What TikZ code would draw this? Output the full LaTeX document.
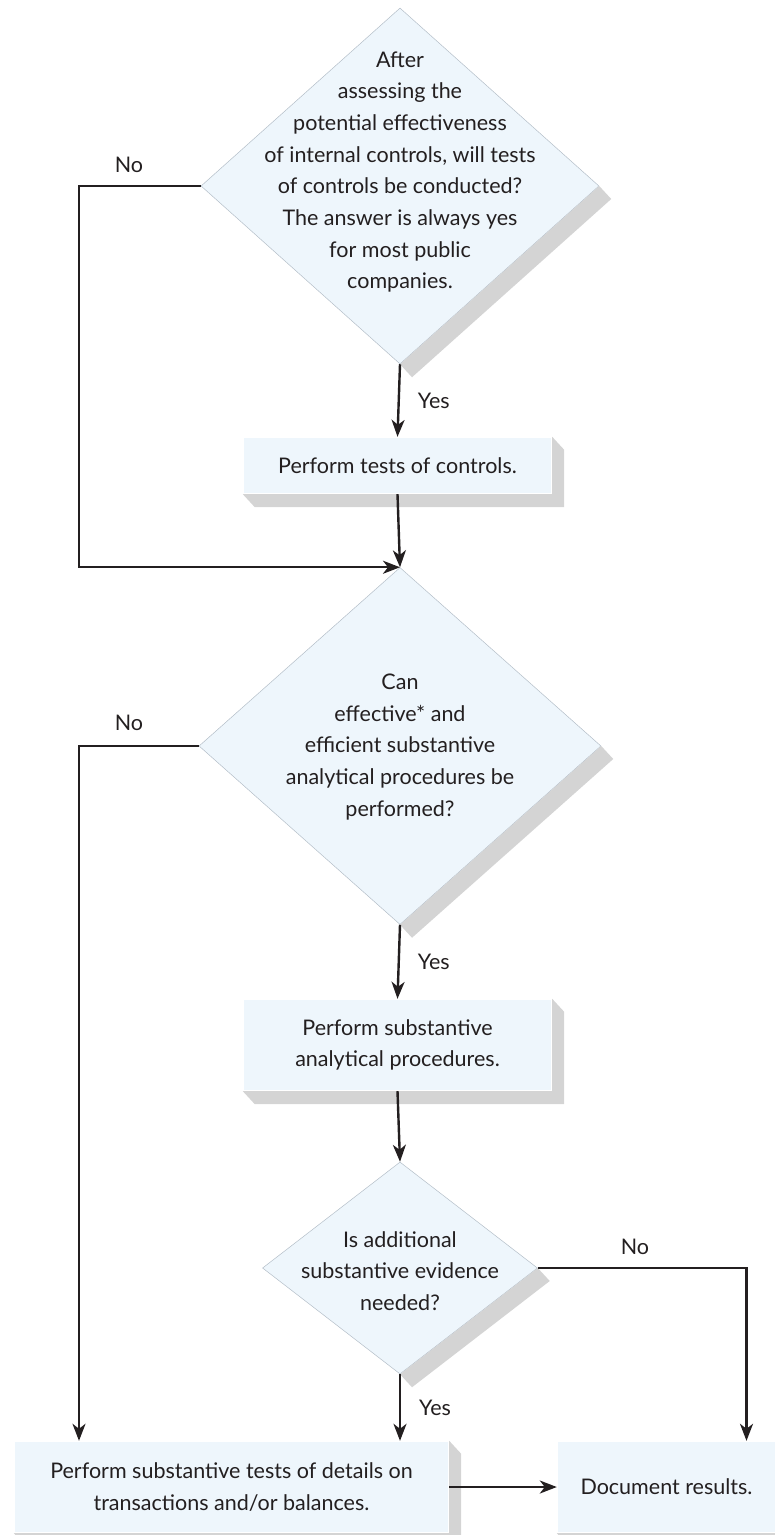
\documentclass[tikz,border=0pt]{standalone}
\usepackage{fontspec}
\setmainfont{Lato}
\usetikzlibrary{arrows.meta,shapes.geometric,calc}
\usepackage{xcolor}
\definecolor{fcFill}{HTML}{EEF6FC}
\definecolor{fcText}{HTML}{231F20}
\definecolor{fcEdge}{HTML}{B4BEC8}
\definecolor{fcShadow}{HTML}{D4D4D4}
\newcommand{\flowfont}{\fontsize{21.5}{31.7}\selectfont}
\tikzset{
    every picture/.style={
        >={Stealth[length=17pt,width=13pt,inset=5pt]},
        line width=2.4pt
    },
    % Node styles
    process/.style={rectangle,fill=fcFill,inner sep=0pt,align=center,text=fcText,font=\flowfont},
    qtext/.style={align=center,text=fcText,font=\flowfont,inner sep=0pt},
    answer/.style={text=fcText,font=\flowfont,inner sep=0pt},
    % Flow styles
    link/.style={->,line width=2.4pt,draw=fcText},
    shadowfill/.style={fill=fcShadow}
}

\begin{document}
\begin{tikzpicture}[
    x=1pt, y=-1pt,
    decision/.style={diamond, draw=fcEdge, line width=0.5pt, fill=fcFill, inner sep=0pt},
]
    \useasboundingbox (0,0) rectangle (775,1535);

    % Decisions
    \node[decision, minimum width=398pt, minimum height=356pt] (q1) at (400,186) {};
    \node[qtext] (q1txt) at (400,172) {After\\assessing the\\potential effectiveness\\of internal controls, will tests\\of controls be conducted?\\The answer is always yes\\for most public\\companies.};

    \node[decision, minimum width=402pt, minimum height=357pt] (q2) at (400,746) {};
    \node[qtext] (q2txt) at (400,747) {Can\\effective* and\\efficient substantive\\analytical procedures be\\performed?};

    \node[decision, minimum width=275pt, minimum height=212pt] (q3) at (400,1268) {};
    \node[qtext] (q3txt) at (400,1271) {Is additional\\substantive evidence\\needed?};

    % Steps
    \node[process, minimum width=307pt, minimum height=55pt] (tests) at (397.5,465.5) {Perform tests of controls.};
    \node[process, minimum width=307pt, minimum height=90pt] (analytic) at (397.5,1045) {Perform substantive\\analytical procedures.};
    \node[process, minimum width=433pt, minimum height=90pt] (details) at (231.5,1487) {Perform substantive tests of details on\\transactions and/or balances.};
    \node[process, minimum width=217pt, minimum height=90pt] (docres) at (666.5,1487) {Document results.};

    % Shadows
    \fill[shadowfill] (q1.east) -- ++(12,13) -- ($(q1.south)+(12,13)$) -- (q1.south) -- cycle;
    \fill[shadowfill] (q2.east) -- ++(12,13) -- ($(q2.south)+(12,13)$) -- (q2.south) -- cycle;
    \fill[shadowfill] (q3.east) -- ++(12,13) -- ($(q3.south)+(12,13)$) -- (q3.south) -- cycle;
    \foreach \b in {tests,analytic,details,docres}
        \fill[shadowfill] (\b.north east) -- ++(12,13) -- ($(\b.south east)+(12,13)$) -- ($(\b.south west)+(12,13)$) -- (\b.south west) -- (\b.south east) -- cycle;

    % Rails
    \coordinate (leftrail) at (79,0);

    % Flow arrows
    \draw[link] (q1.south) -- node[answer, right=18pt] (yes1) {Yes} (tests.north);
    \draw[link] (tests.south) -- (q2.north);
    \draw[link] (q1.west) -| (q2.north -| leftrail) -- (q2.north);
    \node[answer] (no1) at (129,165) {No};

    \draw[link] (q2.south) -- node[answer, right=18pt] (yes2) {Yes} (analytic.north);
    \draw[link] (q2.west) -| (details.north -| leftrail);
    \node[answer] (no2) at (129,723) {No};

    \draw[link] (analytic.south) -- (q3.north);
    \draw[link] (q3.south) -- node[answer, right=18pt] (yes3) {Yes} (q3.south |- details.north);
    \draw[link] (q3.east) -| ([xshift=80pt]docres.north);
    \node[answer] (no3) at (635,1247) {No};

    \draw[link] (details.east) -- (docres.west);

\end{tikzpicture}
\end{document}
